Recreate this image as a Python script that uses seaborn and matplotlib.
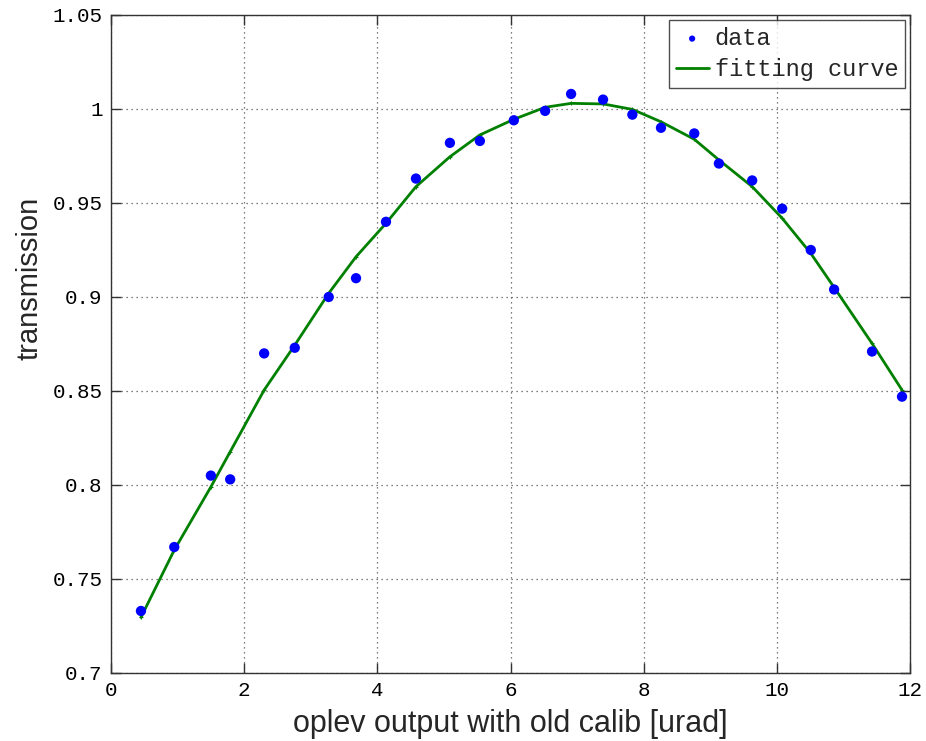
import matplotlib
matplotlib.use("Agg")
import matplotlib.pyplot as plt
import seaborn as sns
import pandas as pd

# measured transmission vs. optical-lever output
x_data = [0.45, 0.95, 1.50, 1.79, 2.30, 2.76, 3.27, 3.68, 4.13, 4.58, 5.09, 5.54, 6.05,
          6.52, 6.91, 7.39, 7.83, 8.26, 8.76, 9.13, 9.63, 10.08, 10.51, 10.86, 11.43, 11.88]
y_data = [0.733, 0.767, 0.805, 0.803, 0.870, 0.873, 0.900, 0.910, 0.940, 0.963, 0.982, 0.983,
          0.994, 0.999, 1.008, 1.005, 0.997, 0.990, 0.987, 0.971, 0.962, 0.947, 0.925, 0.904,
          0.871, 0.847]
# fitted model evaluated at the same positions
y_fit = [0.7296, 0.7654, 0.7990, 0.8177, 0.8505, 0.8744, 0.9020, 0.9214, 0.9392, 0.9587,
         0.9746, 0.9862, 0.9945, 1.0009, 1.0030, 1.0027, 0.9998, 0.9932, 0.9839, 0.9729,
         0.9587, 0.9419, 0.9232, 0.9051, 0.8753, 0.8505]

x_ticks = [0, 2, 4, 6, 8, 10, 12]
y_ticks = [0.7, 0.75, 0.8, 0.85, 0.9, 0.95, 1.0, 1.05]
y_tick_labels = ["0.7", "0.75", "0.8", "0.85", "0.9", "0.95", "1", "1.05"]

df = pd.DataFrame({"x": x_data, "y": y_data, "fit": y_fit})

sns.set_theme(style="white")
mono = ["Liberation Mono", "DejaVu Sans Mono"]
narrow = ["Liberation Sans Narrow", "Liberation Sans", "DejaVu Sans"]
plt.rcParams["font.family"] = mono

fig = plt.figure(figsize=(9.26, 7.41), dpi=100)
ax = fig.add_axes([111 / 926, 68 / 741, 799 / 926, 658 / 741])

green = "#008000"
sns.scatterplot(data=df, x="x", y="y", ax=ax, color="#0000ff", s=55,
                edgecolor="none", label="data", zorder=3)
sns.lineplot(data=df, x="x", y="fit", ax=ax, color=green, linewidth=2.0,
             sort=False, marker="+", markersize=3, markeredgewidth=0.8,
             markeredgecolor=green, markerfacecolor=green,
             label="fitting curve", zorder=2)

ax.set_xlim(0, 12)
ax.set_ylim(0.7, 1.05)
ax.set_xticks(x_ticks)
ax.set_xticklabels([str(t) for t in x_ticks])
ax.set_yticks(y_ticks)
ax.set_yticklabels(y_tick_labels)

ax.grid(True, linestyle=(0, (1, 3)), color="#555555", linewidth=0.9)
ax.tick_params(direction="in", length=7, width=1, colors="#333333",
               labelcolor="black", labelsize=15, top=True, right=True,
               bottom=True, left=True, pad=6)
for s in ax.spines.values():
    s.set_color("#333333")
    s.set_linewidth(1.0)

ax.set_xlabel("oplev output with old calib [urad]", family=narrow, fontsize=22, labelpad=6)
ax.set_ylabel("transmission", family=narrow, fontsize=21)
ax.yaxis.set_label_coords(-0.085, 0.60)

leg = ax.legend(loc="upper right", fontsize=17, frameon=True, fancybox=False,
                edgecolor="#222222", borderaxespad=0.2, handlelength=1.4,
                handletextpad=0.25, borderpad=0.3, labelspacing=0.36, markerscale=0.6)
leg.get_frame().set_linewidth(1.0)

fig.savefig("out.png", dpi=100, facecolor="white")
